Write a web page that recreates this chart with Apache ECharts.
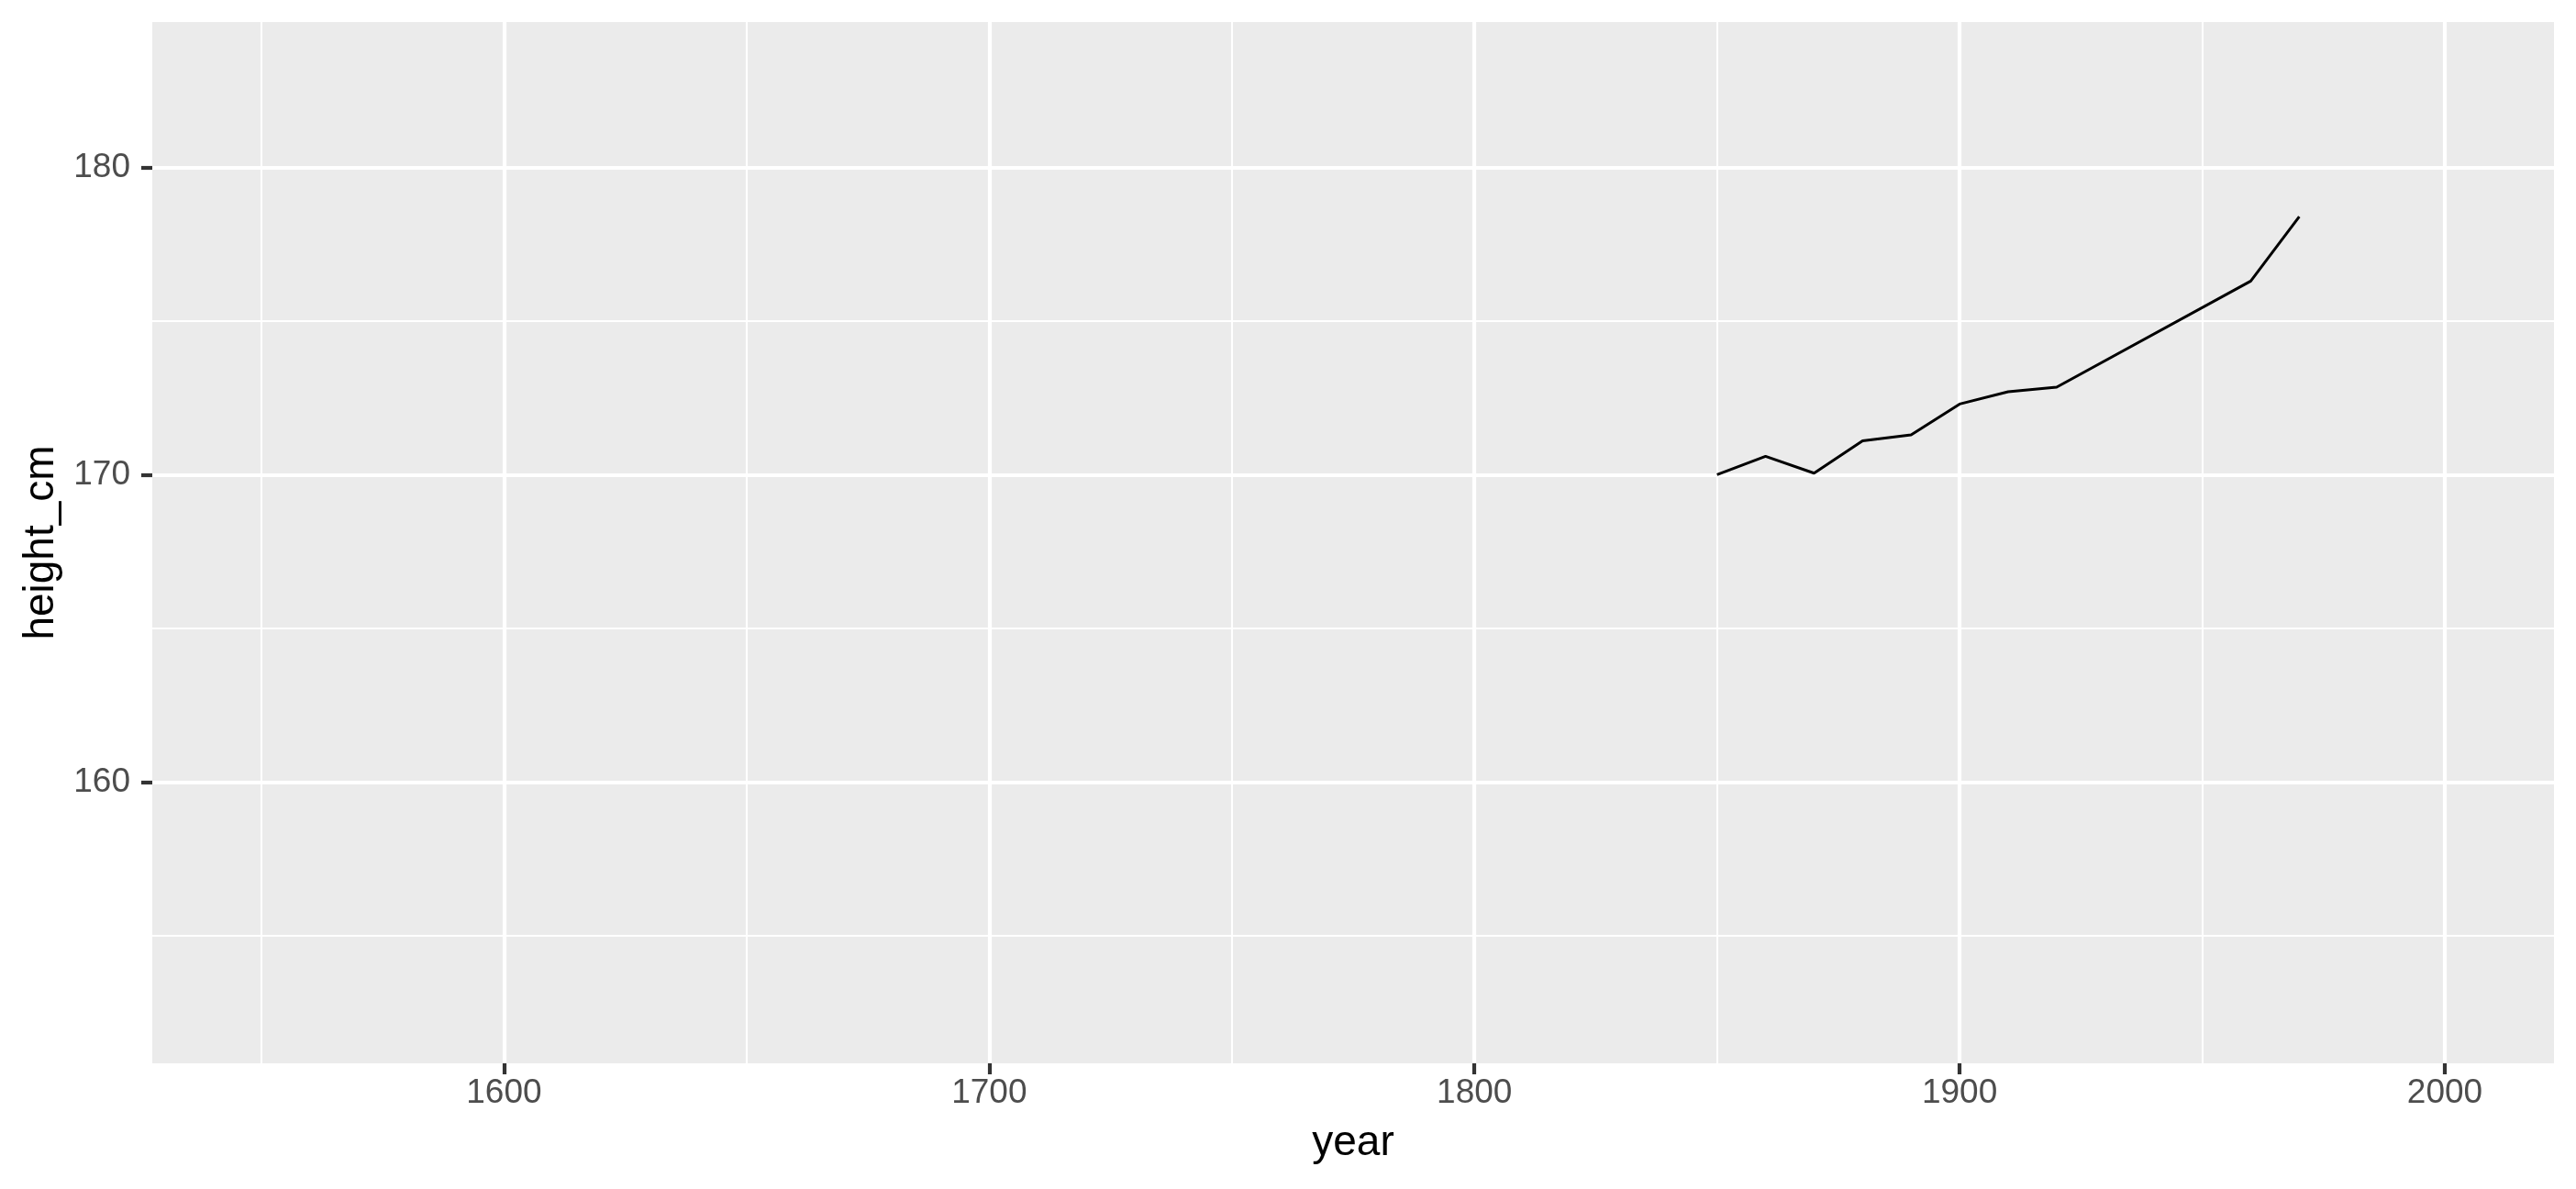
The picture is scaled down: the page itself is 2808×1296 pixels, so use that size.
<!DOCTYPE html>
<html><head><meta charset="utf-8">
<script src="https://cdn.jsdelivr.net/npm/echarts@6/dist/echarts.min.js"></script>
<style>html,body{margin:0;padding:0;background:#fff}#c{width:2808px;height:1296px}</style>
</head><body><div id="c"></div>
<script>
const years = [1850, 1860, 1870, 1880, 1890, 1900, 1910, 1920, 1960, 1970];
const heights = [170.0, 170.6, 170.05, 171.1, 171.3, 172.3, 172.7, 172.85, 176.3, 178.4];
const xTicks = [1600, 1700, 1800, 1900, 2000];
const xMinor = [1550, 1650, 1750, 1850, 1950];
const yTicks = [160, 170, 180];
const yMinor = [155, 165, 175];
const xRange = [1527.5, 2022.5];
const yRange = [150.85, 184.73];

const FONT = '"Liberation Sans", Arial, Helvetica, sans-serif';
const chart = echarts.init(document.getElementById('c'), null, {renderer: 'canvas'});

const gridLines = [];
xMinor.forEach(v => gridLines.push({xAxis: v, lineStyle: {width: 2.1}}));
yMinor.forEach(v => gridLines.push({yAxis: v, lineStyle: {width: 2.1}}));
xTicks.forEach(v => gridLines.push({xAxis: v, lineStyle: {width: 4.2}}));
yTicks.forEach(v => gridLines.push({yAxis: v, lineStyle: {width: 4.2}}));

chart.setOption({
  animation: false,
  backgroundColor: '#ffffff',
  grid: {left: 166, right: 24, top: 24, bottom: 137, show: true, backgroundColor: '#EBEBEB', borderWidth: 0},
  xAxis: {
    type: 'value', min: xRange[0], max: xRange[1],
    axisLine: {show: false},
    axisTick: {show: true, customValues: xTicks, length: 12, lineStyle: {color: '#333333', width: 4.2}},
    axisLabel: {customValues: xTicks, margin: 14, color: '#4D4D4D', fontSize: 37, fontFamily: FONT,
      formatter: v => String(v)},
    splitLine: {show: false},
    name: 'year', nameLocation: 'middle', nameGap: 64,
    nameTextStyle: {fontSize: 46, color: '#000000', fontFamily: FONT}
  },
  yAxis: {
    type: 'value', min: yRange[0], max: yRange[1],
    axisLine: {show: false},
    axisTick: {show: true, customValues: yTicks, length: 12, lineStyle: {color: '#333333', width: 4.2}},
    axisLabel: {customValues: yTicks, margin: 24, color: '#4D4D4D', fontSize: 37, fontFamily: FONT,
      formatter: v => String(v)},
    splitLine: {show: false},
    name: 'height_cm', nameLocation: 'middle', nameGap: 98, nameRotate: 90,
    nameTextStyle: {fontSize: 46, color: '#000000', fontFamily: FONT}
  },
  series: [
    {
      type: 'line', data: [], z: 1, silent: true,
      markLine: {
        z: 1, zlevel: 0,
        silent: true, symbol: ['none', 'none'], label: {show: false},
        lineStyle: {color: '#FFFFFF', type: 'solid', opacity: 1},
        emphasis: {disabled: true},
        data: gridLines
      }
    },
    {
      type: 'line', z: 10, showSymbol: false, silent: true,
      data: years.map((y, i) => [y, heights[i]]),
      lineStyle: {color: '#000000', width: 3},
      itemStyle: {color: '#000000'}
    }
  ]
});
</script>
</body></html>
